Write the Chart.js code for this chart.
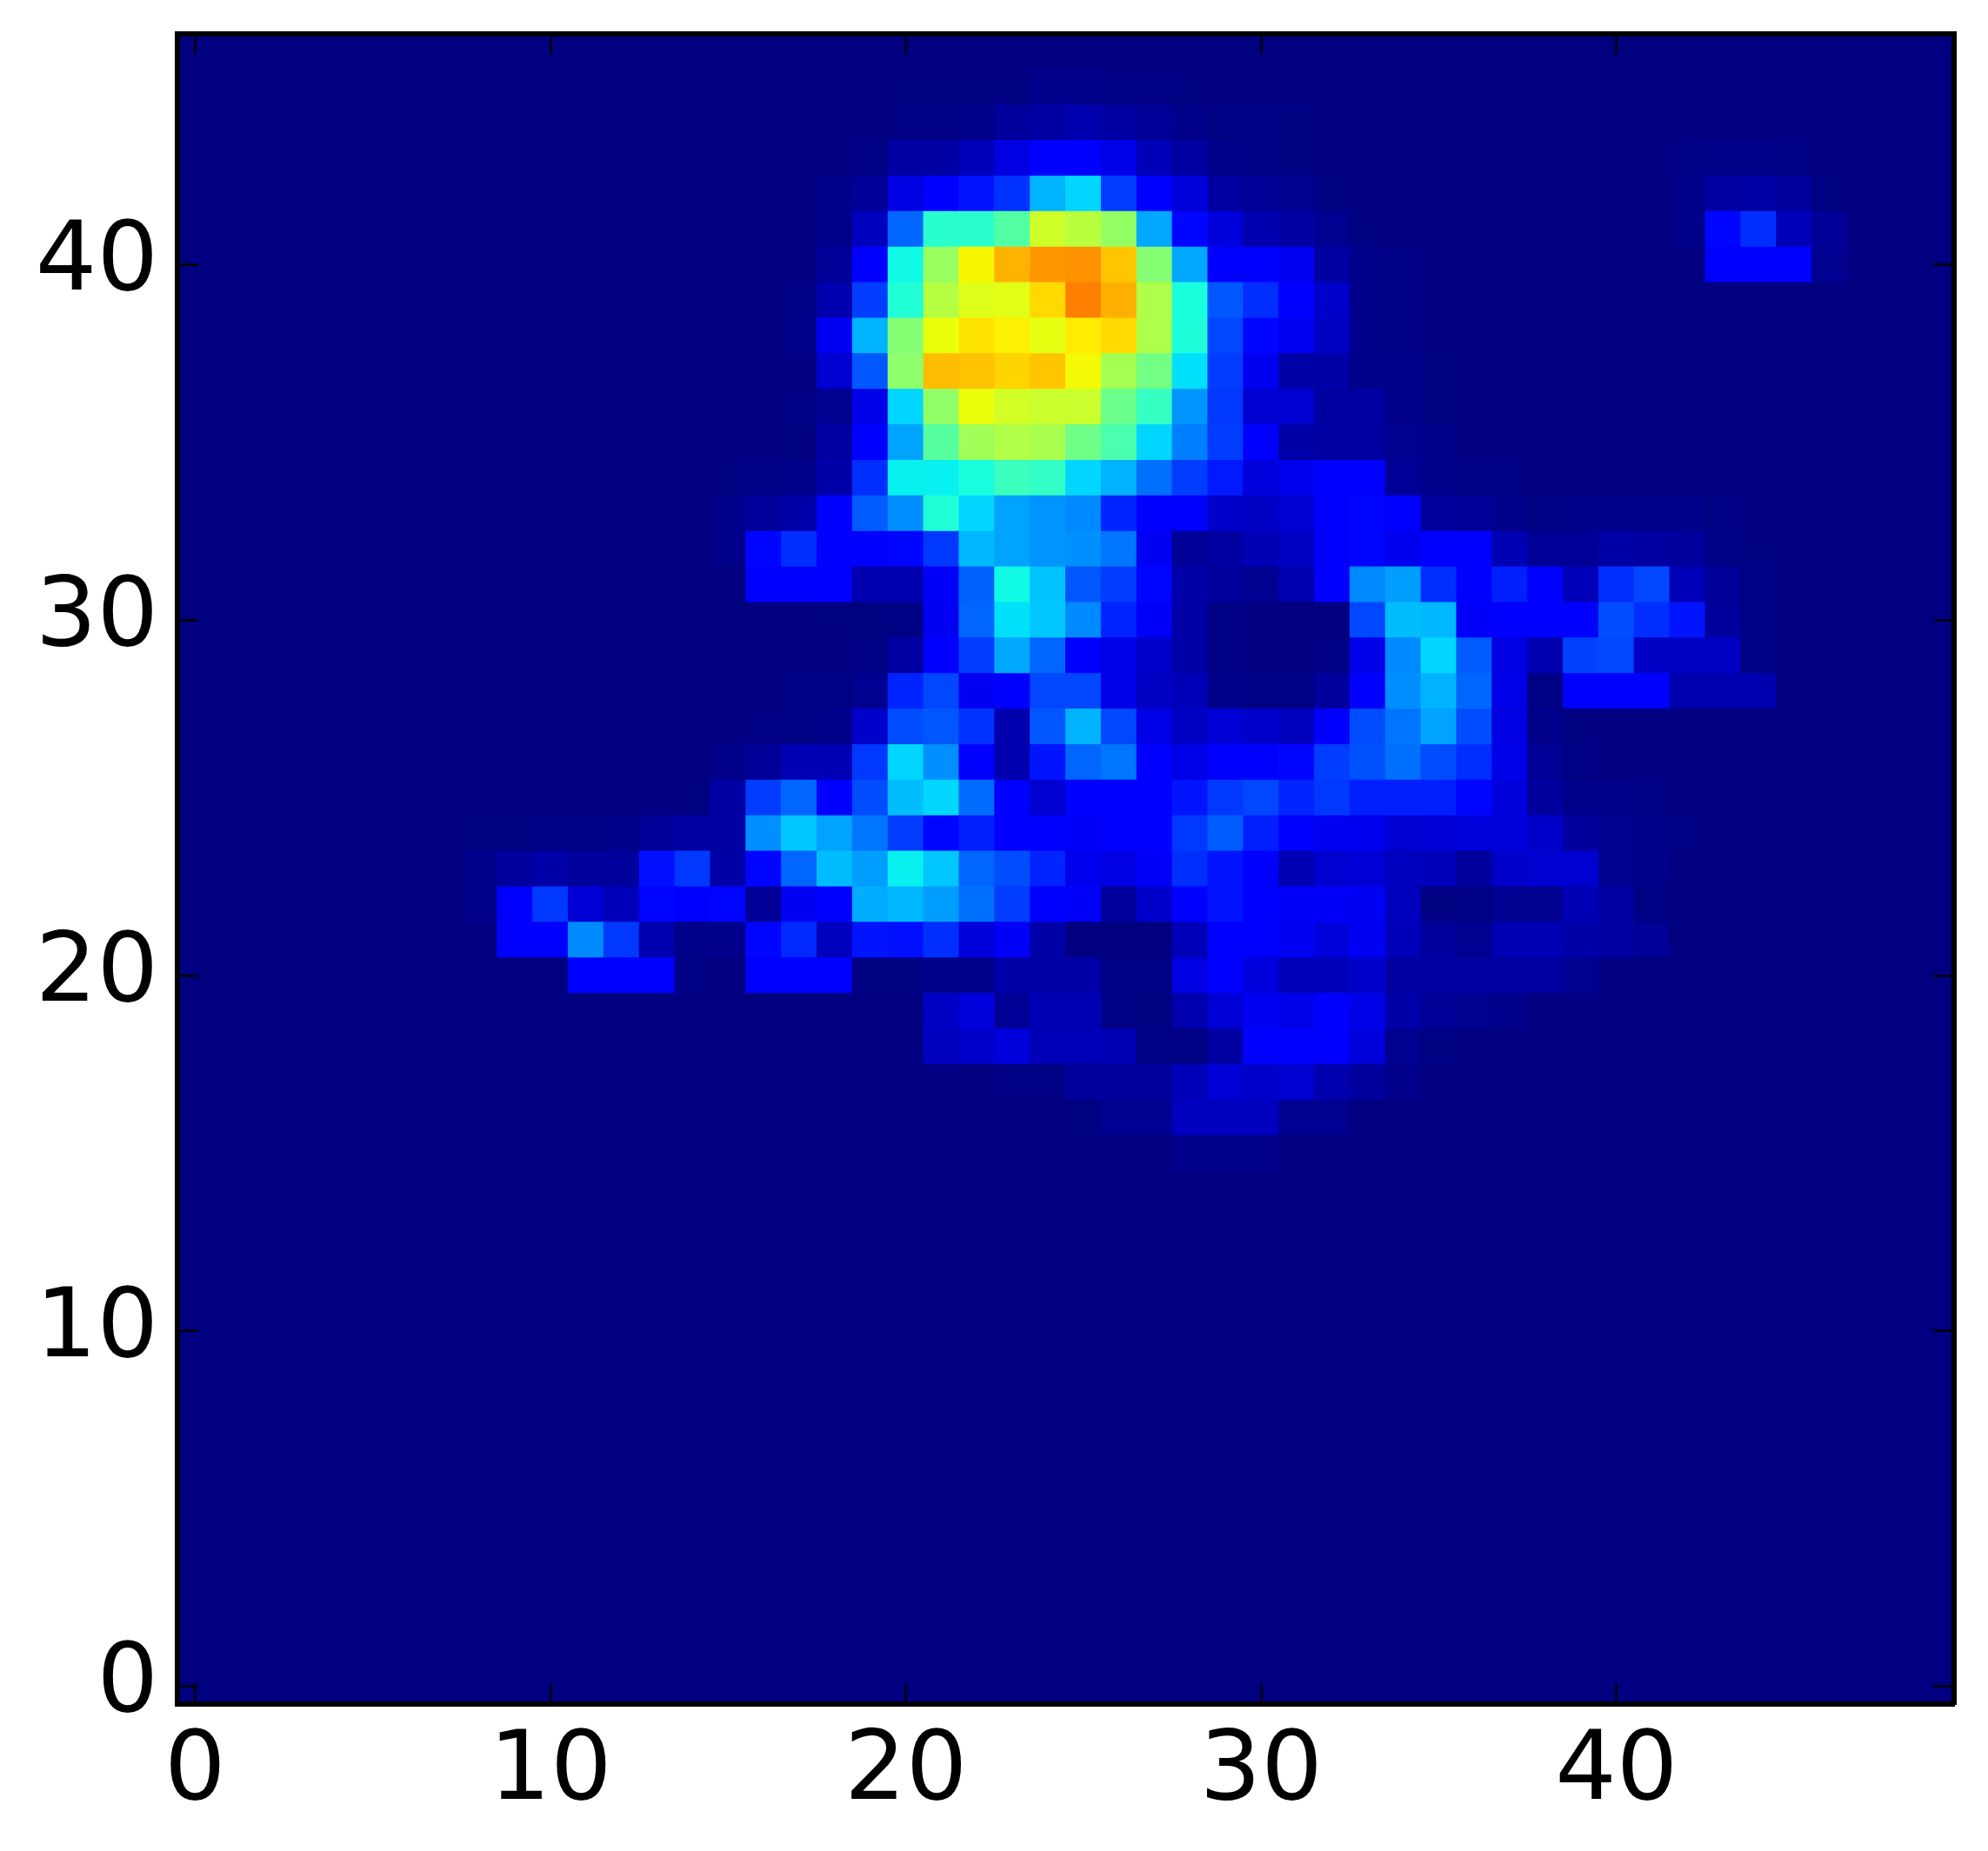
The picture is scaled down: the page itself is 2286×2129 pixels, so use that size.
<!DOCTYPE html>
<html>
<head>
<meta charset="utf-8">
<title>Heatmap</title>
<script src="https://cdn.jsdelivr.net/npm/chart.js@4"></script>
<style>
  html, body { margin: 0; background: #fff; }
  canvas { display: block; }
</style>
</head>
<body>
<canvas id="myChart" width="2286" height="2129"></canvas>
<script>
// tick labels
const xTickValues = [0, 10, 20, 30, 40];
const yTickValues = [0, 10, 20, 30, 40];

// cell values, on a 0-100 colour scale, one array per image row (50 columns)
const row0 = [0,0,0,0,0,0,0,0,0,0, 0,0,0,0,0,0,0,0,0,0, 0,0,0,0,0,0,0,0,0,0, 0,0,0,0,0,0,0,0,0,0, 0,0,0,0,0,0,0,0,0,0];
const row1 = [0,0,0,0,0,0,0,0,0,0, 0,0,0,0,0,0,0,0,0,0, 0,0,0,0,0,0,0,0,0,0, 0,0,0,0,0,0,0,0,0,0, 0,0,0,0,0,0,0,0,0,0];
const row2 = [0,0,0,0,0,0,0,0,0,0, 0,0,0,0,0,0,0,0,0,0, 0,0,0,0,0,0,0,0,0,0, 0,0,0,0,0,0,0,0,0,0, 0,0,0,0,0,0,0,0,0,0];
const row3 = [0,0,0,0,0,0,0,0,0,0, 0,0,0,0,0,0,0,0,0,0, 0,0,0,0,0,0,0,0,0,0, 0,0,0,0,0,0,0,0,0,0, 0,0,0,0,0,0,0,0,0,0];
const row4 = [0,0,0,0,0,0,0,0,0,0, 0,0,0,0,0,0,0,0,0,0, 0,0,0,0,0,0,0,0,0,0, 0,0,0,0,0,0,0,0,0,0, 0,0,0,0,0,0,0,0,0,0];
const row5 = [0,0,0,0,0,0,0,0,0,0, 0,0,0,0,0,0,0,0,0,0, 0,0,0,0,0,0,0,0,0,0, 0,0,0,0,0,0,0,0,0,0, 0,0,0,0,0,0,0,0,0,0];
const row6 = [0,0,0,0,0,0,0,0,0,0, 0,0,0,0,0,0,0,0,0,0, 0,0,0,0,0,0,0,0,0,0, 0,0,0,0,0,0,0,0,0,0, 0,0,0,0,0,0,0,0,0,0];
const row7 = [0,0,0,0,0,0,0,0,0,0, 0,0,0,0,0,0,0,0,0,0, 0,0,0,0,0,0,0,0,0,0, 0,0,0,0,0,0,0,0,0,0, 0,0,0,0,0,0,0,0,0,0];
const row8 = [0,0,0,0,0,0,0,0,0,0, 0,0,0,0,0,0,0,0,0,0, 0,0,0,0,0,0,0,0,0,0, 0,0,0,0,0,0,0,0,0,0, 0,0,0,0,0,0,0,0,0,0];
const row9 = [0,0,0,0,0,0,0,0,0,0, 0,0,0,0,0,0,0,0,0,0, 0,0,0,0,0,0,0,0,0,0, 0,0,0,0,0,0,0,0,0,0, 0,0,0,0,0,0,0,0,0,0];
const row10 = [0,0,0,0,0,0,0,0,0,0, 0,0,0,0,0,0,0,0,0,0, 0,0,0,0,0,0,0,0,0,0, 0,0,0,0,0,0,0,0,0,0, 0,0,0,0,0,0,0,0,0,0];
const row11 = [0,0,0,0,0,0,0,0,0,0, 0,0,0,0,0,0,0,0,0,0, 0,0,0,0,0,0,0,0,0,0, 0,0,0,0,0,0,0,0,0,0, 0,0,0,0,0,0,0,0,0,0];
const row12 = [0,0,0,0,0,0,0,0,0,0, 0,0,0,0,0,0,0,0,0,0, 0,0,0,0,0,0,0,0,0,0, 0,0,0,0,0,0,0,0,0,0, 0,0,0,0,0,0,0,0,0,0];
const row13 = [0,0,0,0,0,0,0,0,0,0, 0,0,0,0,0,0,0,0,0,0, 0,0,0,0,0,0,0,0,0,0, 0,0,0,0,0,0,0,0,0,0, 0,0,0,0,0,0,0,0,0,0];
const row14 = [0,0,0,0,0,0,0,0,0,0, 0,0,0,0,0,0,0,0,0,0, 0,0,0,0,0,0,0,0,0,0, 0,0,0,0,0,0,0,0,0,0, 0,0,0,0,0,0,0,0,0,0];
const row15 = [0,0,0,0,0,0,0,0,0,0, 0,0,0,0,0,0,0,0,0,0, 0,0,0,0,0,0,0,0,1,1, 1,0,0,0,0,0,0,0,0,0, 0,0,0,0,0,0,0,0,0,0];
const row16 = [0,0,0,0,0,0,0,0,0,0, 0,0,0,0,0,0,0,0,0,0, 0,0,0,0,0,.3,1.5,1.5,5.5,5.5, 5.5,1.5,1.5,0,0,0,0,0,0,0, 0,0,0,0,0,0,0,0,0,0];
const row17 = [0,0,0,0,0,0,0,0,0,0, 0,0,0,0,0,0,0,0,0,0, 0,0,0,.5,.5,2.5,2.5,2.5,5,7.5, 6.5,7,4,2.5,1,0,0,0,0,0, 0,0,0,0,0,0,0,0,0,0];
const row18 = [0,0,0,0,0,0,0,0,0,0, 0,0,0,0,0,0,0,0,0,0, 0,5.5,6.5,8,5,5,4.5,.5,.5,3, 11,11.5,11.5,8,1.5,.3,0,0,0,0, 0,0,0,0,0,0,0,0,0,0];
const row19 = [0,0,0,0,0,0,0,0,0,0, 0,0,0,0,0,0,0,0,0,0, 0,6,8,2,4.5,4.5,.5,.3,4,7.5, 10,9,11.5,9,3.5,2,1.5,1,0,0, 0,0,0,0,0,0,0,0,0,0];
const row20 = [0,0,0,0,0,0,0,0,0,0, 0,11.5,11.5,11.5,.5,0,11.5,11.5,11.5,.3, .3,1,1,3.5,3.5,3.5,.5,.5,8.5,11.5, 8,5,5,6.5,3,3,3,3,3,1.5, 0,0,0,0,0,0,0,0,0,0];
const row21 = [0,0,0,0,0,0,0,0,0,11.5, 12,26,18,4,1,1,13,16.5,5.5,14.5, 14,17,8,10.5,3.5,0,0,0,5,12, 11,10,8,10,5,2.5,1.5,4.5,4.5,3.5, 3,2,0,0,0,0,0,0,0,0];
const row22 = [0,0,0,0,0,0,0,0,1,12.5, 18,7.5,5,13,12,13,2,10,11.5,29.5, 30.5,28,23.5,18.5,11.5,10.5,2.5,6.5,11.5,14.5, 11.5,10.5,10.5,10,5.5,.3,.5,1.5,1.5,4.5, 3,.5,0,0,0,0,0,0,0,0];
const row23 = [0,0,0,0,0,0,0,0,1,2.5, 3.5,2.5,2.5,14,18,3.5,13,22.5,31,28, 36,32,22.5,20,16,9.5,8.5,10.5,17,14.5, 12,4.5,7,7.5,5.5,5,2.5,6.5,7,7, 1.5,1,0,0,0,0,0,0,0,0];
const row24 = [0,0,0,0,0,0,0,0,.3,.3, .5,.5,1,2,3,3,26.5,32,28.5,24, 18.5,13,15.5,11.5,11.5,10.5,11.5,12,18,21.5, 15.5,12,10,9.5,7,7.5,8,8,6.5,2.5, 1.5,1,.5,0,0,0,0,0,0,0];
const row25 = [0,0,0,0,0,0,0,0,0,0, 0,0,0,0,.3,3,18.5,22.5,11.5,20, 31,33.5,23,11,7,11.5,11.5,11.5,14.5,18, 19.5,16,18,15.5,15.5,15.5,13,8,2.5,1, 1,.5,0,0,0,0,0,0,0,0];
const row26 = [0,0,0,0,0,0,0,0,0,0, 0,0,0,0,0,1,2,4.5,4.5,18, 33.5,26.5,11.5,4,14.5,22.5,24,11.5,9,11.5, 11.5,13,18.5,20.5,23.5,20,17,9,2,.5, 0,0,0,0,0,0,0,0,0,0];
const row27 = [0,0,0,0,0,0,0,0,0,0, 0,0,0,0,0,0,.5,.5,1,6.5, 20,21,17.5,4,21,30,19.5,9,6,7.5, 6.5,5.5,11.5,20,24,28.5,20,8.5,1,.3, 0,0,0,0,0,0,0,0,0,0];
const row28 = [0,0,0,0,0,0,0,0,0,0, 0,0,0,0,0,0,0,.5,.5,1.5, 16,19.5,10,11.5,19.5,19.5,9,6,5,1, .5,.5,2.5,11.5,26.5,30,22.5,9,.5,11.5, 11.5,11.5,4,4,4,0,0,0,0,0];
const row29 = [0,0,0,0,0,0,0,0,0,0, 0,0,0,0,0,0,0,0,0,.5, 3,11.5,18.5,29,22.5,11.5,9,6.5,3.5,.5, 0,0,.5,9,26,33.5,21.5,8.5,4,19, 19.5,6,6,6,.5,0,0,0,0,0];
const row30 = [0,0,0,0,0,0,0,0,0,0, 0,0,0,0,0,0,0,0,.3,.3, .5,10,22.5,34.5,32,26,16,10.5,3.5,.5, 0,0,0,19.5,31,30.5,10.5,11.5,12,12.5, 20,17,14.5,2.5,.5,0,0,0,0,0];
const row31 = [0,0,0,0,0,0,0,0,0,0, 0,0,0,0,0,0,11.5,11.5,11.5,4, 4,10.5,22,37,31.5,21,18.5,13,3.5,2.5, 1.5,4,11.5,26,28,17,12,15.5,11.5,5, 17,19.5,5,2,.5,0,0,0,0,0];
const row32 = [0,0,0,0,0,0,0,0,0,0, 0,0,0,0,0,1,13,17,11.5,11.5, 13,18,30.5,28.5,27,26.5,24,10,2,3, 4.5,6,12,13,9.5,11.5,11.5,4.5,2,2, 3.5,3,2.5,.5,.3,0,0,0,0,0];
const row33 = [0,0,0,0,0,0,0,0,0,0, 0,0,0,0,0,1,2.5,3.5,11.5,21.5, 26.5,39,33.5,28.5,27,26,16,11.5,11.5,6.5, 6,7,12,13,11.5,2.5,2,1,.5,1, 1,1,1,.5,0,0,0,0,0,0];
const row34 = [0,0,0,0,0,0,0,0,0,0, 0,0,0,0,0,.3,.5,1,3.5,17, 36,36,38,42,41,33.5,30,23.5,18.5,15, 8,9.5,12.5,11.5,2,1,.5,.5,0,0, 0,0,0,0,0,0,0,0,0,0];
const row35 = [0,0,0,0,0,0,0,0,0,0, 0,0,0,0,0,0,0,.3,3,11.5, 28.5,45.5,54.5,56.5,55.5,48.5,44,33.5,25,18.5, 11.5,3.5,3,3,1.5,1,0,0,0,0, 0,0,0,0,0,0,0,0,0,0];
const row36 = [0,0,0,0,0,0,0,0,0,0, 0,0,0,0,0,0,0,.5,1.5,9, 33.5,52.5,63.5,60.5,59.5,59.5,48,41.5,27,18, 7,7,3,3,1,.3,0,0,0,0, 0,0,0,0,0,0,0,0,0,0];
const row37 = [0,0,0,0,0,0,0,0,0,0, 0,0,0,0,0,0,0,0,7,21, 52,71,70.5,68.5,70,64.5,55,49,34.5,18.5, 9.5,3.5,3.5,1,1,.3,0,0,0,0, 0,0,0,0,0,0,0,0,0,0];
const row38 = [0,0,0,0,0,0,0,0,0,0, 0,0,0,0,0,0,0,1,10,30, 51,63.5,67,65.5,63,66,68,56,38.5,19.5, 13,10,6,1,.5,0,0,0,0,0, 0,0,0,0,0,0,0,0,0,0];
const row39 = [0,0,0,0,0,0,0,0,0,0, 0,0,0,0,0,0,0,.5,4,18.5, 39,57,62,62.5,68,77.5,72.5,56,38,21, 17,11.5,6.5,1,.5,0,0,0,0,0, 0,0,0,0,0,0,0,0,0,0];
const row40 = [0,0,0,0,0,0,0,0,0,0, 0,0,0,0,0,0,0,0,2,11.5, 37,53.5,65,72,75,75.5,70,51,29,11.5, 11.5,10,3,1,.5,0,0,0,0,0, 0,0,0,11.5,11.5,11.5,1.5,0,0,0];
const row41 = [0,0,0,0,0,0,0,0,0,0, 0,0,0,0,0,0,0,0,1,5.5, 22.5,40,40,45,60,57.5,53,29,13,8, 4,3,1.5,.3,0,0,0,0,0,0, 0,0,1,13,17,5,2,0,0,0];
const row42 = [0,0,0,0,0,0,0,0,0,0, 0,0,0,0,0,0,0,0,1,2, 8.5,11.5,14.5,17.5,30,33.5,18.5,11.5,8,3, 2,1.5,.3,0,0,0,0,0,0,0, 0,0,1,3,3.5,2.5,.3,0,0,0];
const row43 = [0,0,0,0,0,0,0,0,0,0, 0,0,0,0,0,0,0,0,0,.5, 3,3,5,8.5,11.5,11.5,9,5,3,1, .5,.3,0,0,0,0,0,0,0,0, 0,0,.5,.8,.8,.5,0,0,0,0];
const row44 = [0,0,0,0,0,0,0,0,0,0, 0,0,0,0,0,0,0,0,0,0, .5,.5,1,2.5,3,4,3,2,1,.5, .5,.3,0,0,0,0,0,0,0,0, 0,0,0,0,0,0,0,0,0,0];
const row45 = [0,0,0,0,0,0,0,0,0,0, 0,0,0,0,0,0,0,0,0,0, .3,.3,.3,.3,1,1,.5,.5,.3,0, 0,0,0,0,0,0,0,0,0,0, 0,0,0,0,0,0,0,0,0,0];
const row46 = [0,0,0,0,0,0,0,0,0,0, 0,0,0,0,0,0,0,0,0,0, 0,0,0,0,0,0,0,0,0,0, 0,0,0,0,0,0,0,0,0,0, 0,0,0,0,0,0,0,0,0,0];

const rows = [row0, row1, row2, row3, row4, row5, row6, row7, row8, row9,
  row10, row11, row12, row13, row14, row15, row16, row17, row18, row19,
  row20, row21, row22, row23, row24, row25, row26, row27, row28, row29,
  row30, row31, row32, row33, row34, row35, row36, row37, row38, row39,
  row40, row41, row42, row43, row44, row45, row46];

// matplotlib jet colormap
function channel(v, stops) {
  for (let i = 1; i < stops.length; i++) {
    if (v <= stops[i][0]) {
      const t = (v - stops[i - 1][0]) / (stops[i][0] - stops[i - 1][0]);
      return stops[i - 1][1] + t * (stops[i][1] - stops[i - 1][1]);
    }
  }
  return stops[stops.length - 1][1];
}
function jet(value) {
  const v = value / 100;
  const r = channel(v, [[0, 0], [0.35, 0], [0.66, 1], [0.89, 1], [1, 0.5]]);
  const g = channel(v, [[0, 0], [0.125, 0], [0.375, 1], [0.64, 1], [0.91, 0], [1, 0]]);
  const b = channel(v, [[0, 0.5], [0.11, 1], [0.34, 1], [0.65, 0], [1, 0]]);
  return `rgb(${Math.round(r * 255)},${Math.round(g * 255)},${Math.round(b * 255)})`;
}

const datasets = rows.map((values, r) => ({
  label: `row ${r}`,
  data: values.map((_, c) => ({ x: c, y: [r - 0.5, r + 0.5] })),
  backgroundColor: values.map(jet),
  borderWidth: 0,
  inflateAmount: 0.5,
  barPercentage: 1,
  categoryPercentage: 1,
  grouped: false,
}));

const tickFont = { family: "DejaVu Sans", size: 111, lineHeight: 1 };
const frame = { display: true, color: "#000", width: 6, z: 2 };
const inwardTicks = {
  drawOnChartArea: false,
  tickLength: -24,
  tickWidth: 2.5,
  tickColor: "#000",
  offset: false,
  z: 1,
};
// pin the axis boxes so the plot area stays where the reference has it
const size = (key, px) => (scale) => {
  scale[key] = px;
  scale.paddingLeft = scale.paddingRight = scale.paddingTop = scale.paddingBottom = 0;
};
const useTicks = (values) => (scale) => {
  scale.ticks = values.map((v) => ({ value: v }));
};

new Chart(document.getElementById("myChart").getContext("2d"), {
  type: "bar",
  data: { datasets },
  options: {
    responsive: false,
    animation: false,
    events: [],
    layout: { padding: 0 },
    plugins: { legend: { display: false }, tooltip: { enabled: false } },
    scales: {
      x: {
        type: "linear",
        position: "bottom",
        offset: false,
        min: -0.5,
        max: 49.5,
        grid: inwardTicks,
        border: frame,
        afterBuildTicks: useTicks(xTickValues),
        afterFit: size("height", 169),
        ticks: {
          color: "#000",
          font: tickFont,
          padding: 49,
          maxRotation: 0,
          autoSkip: false,
          callback: (v) => String(v),
        },
      },
      y: {
        type: "linear",
        position: "left",
        offset: false,
        min: -0.5,
        max: 46.5,
        grid: inwardTicks,
        border: frame,
        afterBuildTicks: useTicks(yTickValues),
        afterFit: size("width", 204),
        ticks: {
          color: "#000",
          font: tickFont,
          padding: 46,
          autoSkip: false,
          callback: (v) => String(v),
        },
      },
      xTop: {
        axis: "x",
        type: "linear",
        position: "top",
        offset: false,
        min: -0.5,
        max: 49.5,
        grid: inwardTicks,
        border: frame,
        afterBuildTicks: useTicks(xTickValues),
        afterFit: size("height", 39),
        ticks: { display: false },
      },
      yRight: {
        axis: "y",
        type: "linear",
        position: "right",
        offset: false,
        min: -0.5,
        max: 46.5,
        grid: inwardTicks,
        border: frame,
        afterBuildTicks: useTicks(yTickValues),
        afterFit: size("width", 39),
        ticks: { display: false },
      },
    },
  },
});
</script>
</body>
</html>
